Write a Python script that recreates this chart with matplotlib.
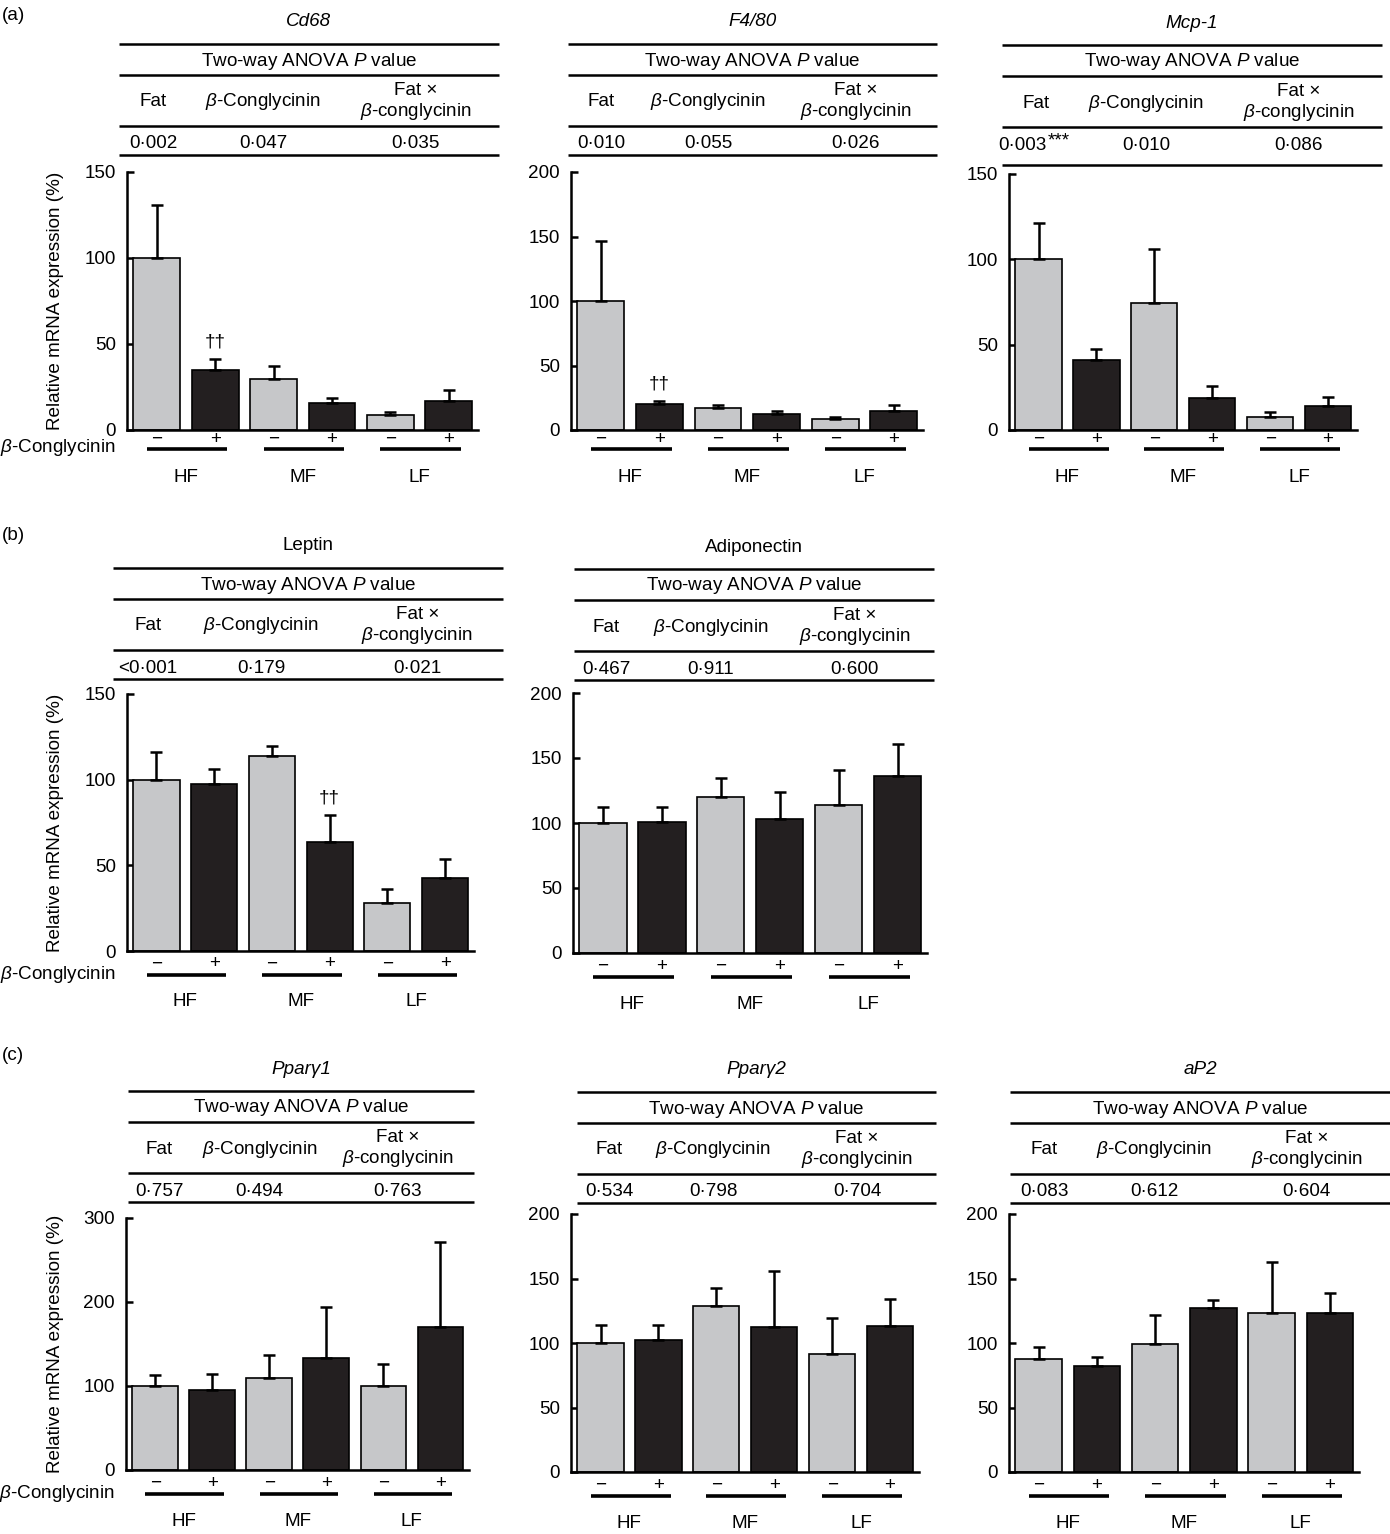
import numpy as np
import matplotlib.pyplot as plt
import matplotlib.transforms as mtransforms
from matplotlib.lines import Line2D

plt.rcParams["font.family"] = "Liberation Sans"
plt.rcParams["mathtext.fontset"] = "custom"
plt.rcParams["mathtext.rm"] = "Liberation Sans"
plt.rcParams["mathtext.it"] = "Liberation Sans:italic"
plt.rcParams["font.size"] = 13.6

# bar order: HF-, HF+, MF-, MF+, LF-, LF+
groups = ["HF", "MF", "LF"]
signs = ["\u2212", "+", "\u2212", "+", "\u2212", "+"]

cd68 = [100, 34.8, 29.9, 15.9, 8.5, 17.0]
cd68_sem = [30.9, 6.6, 7.6, 2.9, 2.0, 6.5]
cd68_p = ["0\u00b7002", "0\u00b7047", "0\u00b7035"]

f480 = [100, 20.0, 16.8, 12.4, 8.8, 15.0]
f480_sem = [46.6, 2.8, 2.9, 2.1, 1.6, 4.4]
f480_p = ["0\u00b7010", "0\u00b7055", "0\u00b7026"]

mcp1 = [100, 41.0, 74.6, 19.0, 7.4, 14.0]
mcp1_sem = [21.5, 6.3, 31.7, 7.0, 3.1, 5.5]
mcp1_p = ["0\u00b7003***", "0\u00b7010", "0\u00b7086"]

leptin = [99.6, 97.5, 114.0, 63.6, 27.8, 42.4]
leptin_sem = [16.4, 8.5, 5.5, 16.0, 8.6, 11.3]
leptin_p = ["<0\u00b7001", "0\u00b7179", "0\u00b7021"]

adipo = [99.7, 101.0, 120.0, 103.0, 114.0, 136.0]
adipo_sem = [12.3, 11.0, 15.0, 21.0, 27.0, 25.0]
adipo_p = ["0\u00b7467", "0\u00b7911", "0\u00b7600"]

pparg1 = [99.9, 94.7, 109.0, 132.8, 100.3, 170.4]
pparg1_sem = [13.1, 19.1, 27.7, 61.2, 25.7, 101.1]
pparg1_p = ["0\u00b7757", "0\u00b7494", "0\u00b7763"]

pparg2 = [99.7, 102.0, 129.0, 112.4, 91.7, 113.0]
pparg2_sem = [14.3, 12.0, 14.0, 43.6, 27.3, 21.0]
pparg2_p = ["0\u00b7534", "0\u00b7798", "0\u00b7704"]

ap2 = [87.3, 82.0, 99.0, 127.0, 123.0, 123.5]
ap2_sem = [9.7, 7.0, 23.0, 6.6, 40.0, 15.5]
ap2_p = ["0\u00b7083", "0\u00b7612", "0\u00b7604"]

W, H = 1390, 1534
fig = plt.figure(figsize=(W / 100, H / 100), dpi=100)


def fx(px):
    return px / W


def fy(py):
    return 1 - py / H


def hline(x0, x1, y, lw=1.8):
    fig.add_artist(Line2D([fx(x0), fx(x1)], [fy(y), fy(y)], transform=fig.transFigure,
                          color="black", lw=lw, solid_capstyle="butt"))


def pvalue_text(x, y, p):
    # stars after a P value are set as a raised suffix
    if p.endswith("*"):
        base = p.rstrip("*")
        stars = p[len(base):]
        fig.text(fx(x + 10), fy(y), base, ha="right", va="center")
        fig.text(fx(x + 11), fy(y + 4), stars, ha="left", va="bottom")
    else:
        fig.text(fx(x), fy(y), p, ha="center", va="center")


def panel(title, italic, mean, sem, pvals, ymax, ystep, box, table, offs,
          first_col=False, dagger=None, last_line=111):
    left, right, top, bottom = box
    ax = fig.add_axes([fx(left), fy(bottom), (right - left) / W, (bottom - top) / H])

    # table above the bars
    tx0, tx1, T = table
    tw = tx1 - tx0
    cx = (tx0 + tx1) / 2
    fig.text(fx(cx), fy(T - 22), title, ha="center", va="center",
             style="italic" if italic else "normal")
    for dy in (0, 31, 82, last_line):
        hline(tx0, tx1, T + dy)
    fig.text(fx(cx), fy(T + 17), "Two-way ANOVA $P$ value", ha="center", va="center")
    colx = [tx0 + f * tw for f in (0.09, 0.38, 0.78)]
    heads = ["Fat", r"$\beta$-Conglycinin", "Fat \u00d7\n" + r"$\beta$-conglycinin"]
    for x, h in zip(colx, heads):
        fig.text(fx(x), fy(T + 58), h, ha="center", va="center", linespacing=1.1)
    for x, p in zip(colx, pvals):
        pvalue_text(x, T + 100, p)

    x = np.arange(6)
    colors = ["#c6c7c9", "#231f20"] * 3
    ax.bar(x, mean, width=0.8, color=colors, edgecolor="black", linewidth=1.2, zorder=2)
    ax.errorbar(x, mean, yerr=[np.zeros(6), sem], fmt="none", ecolor="black",
                elinewidth=1.8, capsize=4, capthick=1.8, zorder=3)
    ax.set_xlim(-0.51, 5.5)
    ax.set_ylim(0, ymax)
    ax.set_yticks(np.arange(0, ymax + 1, ystep))
    ax.set_xticks([])
    ax.tick_params(axis="y", direction="in", length=5, width=1.8, pad=8, labelsize=13.6)
    for s in ("top", "right"):
        ax.spines[s].set_visible(False)
    for s in ("left", "bottom"):
        ax.spines[s].set_linewidth(1.8)

    tr = mtransforms.blended_transform_factory(ax.transData, fig.transFigure)
    s_off, u_off, g_off = offs
    for i, s in enumerate(signs):
        ax.text(i, fy(bottom + s_off), s, transform=tr, ha="center", va="center")
    for g, name in enumerate(groups):
        a, b = 2 * g, 2 * g + 1
        ax.plot([a - 0.17, b + 0.21], [fy(bottom + u_off)] * 2, transform=tr, color="black",
                lw=2.6, clip_on=False, solid_capstyle="butt")
        ax.text((a + b) / 2, fy(bottom + g_off), name, transform=tr, ha="center", va="center")

    if dagger is not None:
        ax.annotate("\u2020\u2020", (dagger, mean[dagger] + sem[dagger]), xytext=(0, 6),
                    textcoords="offset points", ha="center", va="bottom")

    if first_col:
        fig.text(fx(56), fy((top + bottom) / 2), "Relative mRNA expression (%)",
                 rotation=90, ha="center", va="center")
        fig.text(fx(left - 11), fy(bottom + u_off - 1), r"$\beta$-Conglycinin",
                 ha="right", va="center")
    return ax


row_a = (9, 19, 47)
row_bc = (13, 24, 51)

panel("Cd68", True, cd68, cd68_sem, cd68_p, 150, 50, (127, 478, 172, 430),
      (119, 499, 44), row_a, first_col=True, dagger=1)
panel("F4/80", True, f480, f480_sem, f480_p, 200, 50, (571, 923, 172, 430),
      (568, 937, 44), row_a, dagger=1)
panel("Mcp-1", True, mcp1, mcp1_sem, mcp1_p, 150, 50, (1009, 1357, 174, 430),
      (1002, 1382, 45), row_a, last_line=120)

panel("Leptin", False, leptin, leptin_sem, leptin_p, 150, 50, (127, 474, 694, 951),
      (113, 503, 568), row_bc, first_col=True, dagger=3)
panel("Adiponectin", False, adipo, adipo_sem, adipo_p, 200, 50, (573, 927, 693, 953),
      (574, 934, 569), row_bc)

panel("Ppar\u03b31", True, pparg1, pparg1_sem, pparg1_p, 300, 100, (126, 469, 1218, 1470),
      (128, 474, 1091), row_bc, first_col=True)
panel("Ppar\u03b32", True, pparg2, pparg2_sem, pparg2_p, 200, 50, (571, 919, 1214, 1472),
      (577, 936, 1092), row_bc)
panel("aP2", True, ap2, ap2_sem, ap2_p, 200, 50, (1009, 1359, 1214, 1472),
      (1010, 1390, 1092), row_bc)

for lab, y in (("(a)", 15), ("(b)", 535), ("(c)", 1055)):
    fig.text(fx(2), fy(y), lab, ha="left", va="center")

fig.savefig("out.png", dpi=100)
